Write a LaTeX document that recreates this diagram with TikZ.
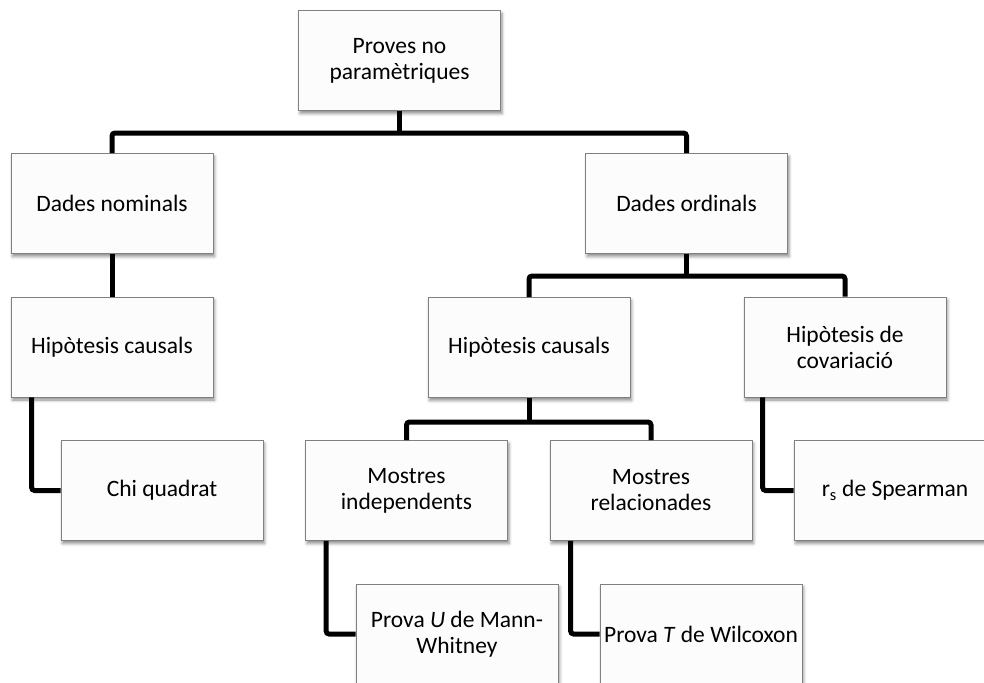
\documentclass[tikz,border=0pt]{standalone}
\usepackage{fontspec}
\setmainfont{Carlito}
\usetikzlibrary{shadows.blur}
\begin{document}
\begin{tikzpicture}[x=1pt,y=-1pt,
  box/.style={draw=black!50, line width=0.8pt, fill=white!99!black,
    minimum width=202pt, minimum height=100pt, inner sep=0pt, align=center,
    font=\fontsize{23.5}{26}\selectfont,
    blur shadow={shadow xshift=1.5pt, shadow yshift=-3pt,
      shadow blur radius=3pt, shadow opacity=45}},
  conn/.style={line width=5pt, rounded corners=3pt}]
\useasboundingbox (0,0) rectangle (984,682);

% boxes
\node[box] (top) at (399.5,60.5) {Proves no\\paramètriques};
\node[box] (dn)  at (112,203.5)  {Dades nominals};
\node[box] (do)  at (686.5,203.5) {Dades ordinals};
\node[box] (hcL) at (112,347)    {Hipòtesis causals};
\node[box] (hcM) at (529,347.5)  {Hipòtesis causals};
\node[box] (cov) at (845,347)    {Hipòtesis de\\covariació};
\node[box] (chi) at (162,490.5)  {Chi quadrat};
\node[box] (mi)  at (406.5,490.5) {Mostres\\independents};
\node[box] (mr)  at (651,490.5)  {Mostres\\relacionades};
\node[box] (rs)  at (895,490.5)  {r\textsubscript{s} de Spearman};
\node[box] (mw)  at (457,634)    {Prova \textit{U} de Mann-\\Whitney};
\node[box] (wil) at (701,634)    {Prova \textit{T} de Wilcoxon};

% connectors
\coordinate (j1) at (399.5,133);
\draw[conn] (top.south) -- (j1);
\draw[conn] (dn.north) |- (j1) -| (do.north);
\draw[conn] (dn.south) -- (hcL.north);
\draw[conn] ([xshift=21pt]hcL.south west) |- (chi.west);

\coordinate (j2) at (686.5,276);
\draw[conn] (do.south) -- (j2);
\draw[conn] (hcM.north) |- (j2) -| (cov.north);
\draw[conn] ([xshift=19pt]cov.south west) |- (rs.west);

\coordinate (j3) at (529,422);
\draw[conn] (hcM.south) -- (j3);
\draw[conn] (mi.north) |- (j3) -| (mr.north);
\draw[conn] ([xshift=21pt]mi.south west) |- (mw.west);
\draw[conn] ([xshift=21pt]mr.south west) |- (wil.west);
\end{tikzpicture}
\end{document}
